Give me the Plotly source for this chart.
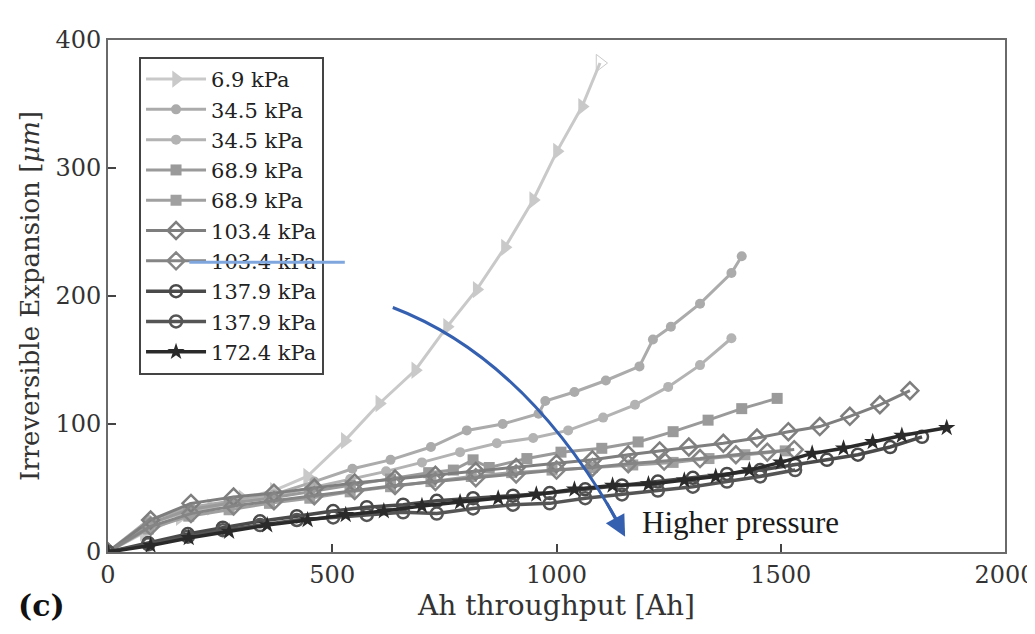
import plotly.graph_objects as go

# ---------------- data ----------------
x_69 = [0, 80, 160, 230, 300, 370, 444, 528, 605, 685, 756, 822, 885, 948, 1001, 1057, 1097]
y_69 = [0, 15, 27, 35, 42, 48, 59, 87, 116, 142, 176, 205, 238, 275, 313, 348, 382]

x_345a = [0, 90, 185, 280, 370, 460, 545, 630, 720, 800, 880, 960, 975, 1040, 1110, 1185, 1215, 1255, 1320, 1390, 1413]
y_345a = [0, 25, 35, 40, 45, 55, 65, 72, 82, 95, 100, 108, 118, 125, 134, 145, 166, 176, 194, 218, 231]

x_345b = [0, 90, 180, 270, 360, 450, 540, 620, 700, 785, 867, 948, 1026, 1104, 1175, 1249, 1320, 1390]
y_345b = [0, 22, 32, 38, 43, 50, 57, 63, 70, 78, 85, 89, 95, 105, 115, 129, 146, 167]

x_689a = [0, 90, 180, 270, 360, 450, 540, 630, 715, 770, 814, 850, 934, 1010, 1101, 1182, 1260, 1338, 1413, 1492]
y_689a = [0, 22, 33, 38, 42, 47, 52, 57, 62, 64, 72, 66, 73, 78, 81, 86, 94, 103, 112, 120]

x_689b = [0, 90, 180, 270, 360, 450, 540, 630, 720, 810, 900, 990, 1080, 1170, 1260, 1340, 1420, 1510]
y_689b = [0, 18, 28, 33, 38, 42, 47, 51, 55, 59, 62, 64, 66, 68, 70, 73, 76, 79]

x_1034a = [0, 95, 185, 280, 370, 460, 550, 640, 730, 820, 910, 1000, 1080, 1160, 1230, 1295, 1372, 1447, 1517, 1587, 1654, 1721, 1788]
y_1034a = [0, 25, 38, 43, 46, 50, 54, 57, 60, 63, 66, 69, 72, 76, 79, 82, 85, 89, 94, 98, 106, 115, 126]

x_1034b = [0, 95, 185, 280, 370, 460, 550, 640, 730, 820, 910, 1000, 1080, 1160, 1240, 1320, 1400, 1470, 1530]
y_1034b = [0, 20, 30, 36, 40, 44, 48, 52, 55, 58, 61, 64, 66, 69, 71, 73, 76, 78, 80]

x_1379a = [0, 90, 178, 256, 339, 421, 502, 577, 658, 733, 814, 903, 985, 1064, 1146, 1226, 1304, 1380, 1454, 1532, 1603, 1672, 1744, 1815]
y_1379a = [0, 7, 14, 19, 24, 28, 32, 35, 37, 40, 42, 44, 46, 49, 52, 55, 58, 61, 64, 68, 72, 76, 82, 90]

x_1379b = [0, 90, 178, 256, 339, 421, 502, 577, 658, 733, 814, 903, 985, 1064, 1146, 1226, 1304, 1380, 1454, 1532]
y_1379b = [0, 6, 12, 17, 21, 25, 27, 29, 31, 30, 34, 37, 38, 42, 45, 48, 51, 55, 59, 64]

x_1724 = [0, 95, 180, 270, 355, 445, 530, 615, 700, 785, 870, 955, 1040, 1125, 1205, 1285, 1355, 1430, 1500, 1570, 1640, 1705, 1770, 1870]
y_1724 = [0, 5, 11, 16, 21, 25, 29, 32, 36, 39, 42, 45, 49, 52, 53, 56, 59, 64, 70, 77, 81, 86, 91, 97]

labels = ["6.9 kPa", "34.5 kPa", "34.5 kPa", "68.9 kPa", "68.9 kPa",
          "103.4 kPa", "103.4 kPa", "137.9 kPa", "137.9 kPa", "172.4 kPa"]

x_ticks = [0, 500, 1000, 1500, 2000]
y_ticks = [0, 100, 200, 300, 400]

# ---------------- styling ----------------
series = [
    (x_69, y_69, "#c9c9c9", "triangle-right", 15, 3),
    (x_345a, y_345a, "#ababab", "circle", 10, 3),
    (x_345b, y_345b, "#b3b3b3", "circle", 10, 3),
    (x_689a, y_689a, "#9a9a9a", "square", 11, 3),
    (x_689b, y_689b, "#a0a0a0", "square", 11, 3),
    (x_1034a, y_1034a, "#7e7e7e", "diamond-open", 13, 3),
    (x_1034b, y_1034b, "#858585", "diamond-open", 13, 3),
    (x_1379a, y_1379a, "#4a4a4a", "circle-open", 12, 3.5),
    (x_1379b, y_1379b, "#555555", "circle-open", 12, 3.5),
    (x_1724, y_1724, "#2a2a2a", "star", 13, 3.5),
]

SERIF = "DejaVu Serif"

fig = go.Figure()
for (xs, ys, col, sym, msz, lw), name in zip(series, labels):
    symbols = [sym] * len(xs)
    if sym == "triangle-right":
        symbols[-1] = "triangle-right-open"
    fig.add_trace(go.Scatter(
        x=xs, y=ys, name=name, mode="lines+markers",
        line=dict(color=col, width=lw),
        marker=dict(symbol=symbols, size=msz, color=col,
                    line=dict(color=col, width=2.5 if "open" in sym else 0)),
    ))

# curved blue arrow ("Higher pressure")
fig.add_shape(type="path", path="M 635,191 Q 941,150 1150,15",
              line=dict(color="#3560b0", width=3), xref="x", yref="y")
fig.add_annotation(x=1153, y=12, ax=-19, ay=-35, xref="x", yref="y",
                   showarrow=True, arrowhead=2, arrowsize=1.4, arrowwidth=3,
                   arrowcolor="#3560b0", text="")
fig.add_annotation(x=1186, y=23, xref="x", yref="y", text="Higher pressure",
                   showarrow=False, xanchor="left", yanchor="middle",
                   font=dict(family="Liberation Serif", size=31, color="#1a1a1a"))

fig.add_annotation(x=-0.103, y=-0.104, xref="paper", yref="paper", text="<b>(c)</b>",
                   showarrow=False, xanchor="left", yanchor="middle",
                   font=dict(family=SERIF, size=30, color="#111"))

axis_common = dict(showgrid=False, zeroline=False, showline=True, mirror=True,
                   linecolor="#6a6a6a", linewidth=2, ticks="inside", ticklen=8,
                   tickcolor="#444", tickwidth=1.5, automargin=False,
                   tickfont=dict(family=SERIF, size=24, color="#333"))

fig.update_xaxes(range=[0, 2000], tickvals=x_ticks,
                 title=dict(text="Ah throughput [Ah]", standoff=6,
                            font=dict(family=SERIF, size=28, color="#333")),
                 **axis_common)
fig.update_yaxes(range=[0, 400], tickvals=y_ticks,
                 title=dict(text="Irreversible Expansion [<i>μm</i>]", standoff=8,
                            font=dict(family=SERIF, size=26, color="#333")),
                 **axis_common)

fig.update_layout(
    width=1035, height=634,
    margin=dict(l=100, r=38, t=32, b=90, autoexpand=False),
    plot_bgcolor="white", paper_bgcolor="white",
    showlegend=True,
    legend=dict(x=0.0346, y=0.967, xanchor="left", yanchor="top",
                bgcolor="white", bordercolor="#444", borderwidth=2,
                font=dict(family=SERIF, size=21, color="#222"),
                itemwidth=60, tracegroupgap=0),
)

# stray light-blue stroke across the legend (present in the reference)
fig.add_annotation(x=0.264, y=0.566, ax=-157, ay=0, xref="paper", yref="paper",
                   text="", showarrow=True,
                   arrowhead=0, arrowwidth=3, arrowcolor="#7fa7de")

fig.write_html("out.html")
